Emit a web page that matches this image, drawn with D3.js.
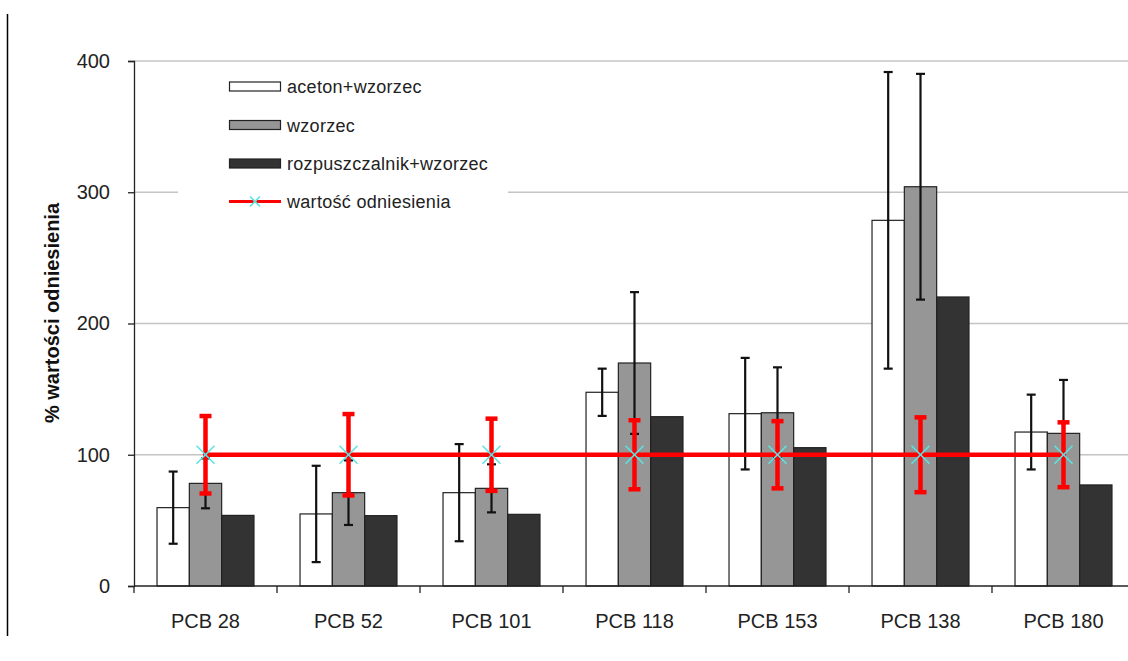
<!DOCTYPE html>
<html>
<head>
<meta charset="utf-8">
<script src="https://cdn.jsdelivr.net/npm/d3@7"></script>
<style>
  html, body { margin: 0; padding: 0; background: #fff; }
  svg { display: block; }
  text { font-family: "Liberation Sans", Arial, sans-serif; }
</style>
</head>
<body>
<svg id="chart" width="1128" height="661"></svg>
<script>
const categories = ["PCB 28", "PCB 52", "PCB 101", "PCB 118", "PCB 153", "PCB 138", "PCB 180"];
const seriesNames = ["aceton+wzorzec", "wzorzec", "rozpuszczalnik+wzorzec"];
const refName = "wartość odniesienia";
const acetonValues = [59.7, 54.9, 71.1, 147.6, 131.3, 278.6, 117.3];
const acetonErrors = [27.5, 36.7, 37.0, 18.0, 42.5, 113.0, 28.5];
const wzorzecValues = [78.2, 71.1, 74.4, 169.9, 132.0, 304.2, 116.3];
const wzorzecErrors = [19.0, 24.6, 18.3, 54.0, 34.6, 86.0, 40.7];
const rozpValues = [53.8, 53.6, 54.6, 129.0, 105.4, 220.2, 77.0];
const refValues = [100, 100, 100, 100, 100, 100, 100];
const refErrors = [29.5, 31.0, 27.5, 26.3, 25.6, 28.5, 24.7];
const yTicks = [0, 100, 200, 300, 400];
const yTitle = "% wartości odniesienia";

const seriesColors = ["#ffffff", "#969696", "#333333"];

const svg = d3.select("#chart");
const pLeft = 134, pRight = 1135, pTop = 61, pBottom = 586;

const x = d3.scaleBand().domain(categories).range([pLeft, pRight]).padding(0);
const y = d3.scaleLinear().domain([0, 400]).range([pBottom, pTop]);
const bw = x.bandwidth();
const groupPad = bw * 0.161;
const barW = (bw - 2 * groupPad) / 3;
const inner = d3.scaleBand().domain(seriesNames).range([groupPad, bw - groupPad]).padding(0);

// left border line
svg.append("line").attr("x1", 7.5).attr("x2", 7.5).attr("y1", 14).attr("y2", 636)
  .attr("stroke", "#000").attr("stroke-width", 1.5);

// gridlines
svg.append("g").selectAll("line").data(yTicks.filter(d => d > 0)).join("line")
  .attr("x1", pLeft).attr("x2", 1128)
  .attr("y1", d => y(d)).attr("y2", d => y(d))
  .attr("stroke", "#c4c4c4").attr("stroke-width", 1.5);

// y axis
const yAxis = svg.append("g").attr("transform", `translate(${pLeft},0)`)
  .call(d3.axisLeft(y).tickValues(yTicks).tickSize(6).tickPadding(18));
yAxis.select(".domain").attr("stroke", "#222").attr("stroke-width", 1.3);
yAxis.selectAll(".tick line").attr("stroke", "#222").attr("stroke-width", 1.3);
yAxis.selectAll("text").attr("font-size", 20).attr("fill", "#222")
  .attr("font-family", "Liberation Sans, Arial, sans-serif");

// y title
svg.append("text")
  .attr("transform", `translate(59,313) rotate(-90)`)
  .attr("text-anchor", "middle")
  .attr("font-size", 20).attr("font-weight", "bold").attr("fill", "#111")
  .text(yTitle);

// bars
const seriesData = [acetonValues, wzorzecValues, rozpValues];
const barG = svg.append("g");
seriesData.forEach((vals, si) => {
  barG.selectAll(null).data(vals.map((v, i) => ({ cat: categories[i], v })))
    .join("rect")
    .attr("x", d => x(d.cat) + inner(seriesNames[si]))
    .attr("width", barW)
    .attr("y", d => y(d.v))
    .attr("height", d => y(0) - y(d.v))
    .attr("fill", seriesColors[si])
    .attr("stroke", "#222").attr("stroke-width", 1.2);
});

// x axis
const xAxisG = svg.append("g");
xAxisG.append("line").attr("x1", pLeft).attr("x2", 1128).attr("y1", pBottom).attr("y2", pBottom)
  .attr("stroke", "#222").attr("stroke-width", 1.3);
const boundaries = categories.map(c => x(c)).concat([x(categories[categories.length - 1]) + bw]);
xAxisG.selectAll(".xt").data(boundaries).join("line")
  .attr("x1", d => d).attr("x2", d => d).attr("y1", pBottom).attr("y2", pBottom + 7)
  .attr("stroke", "#222").attr("stroke-width", 1.3);
xAxisG.selectAll("text").data(categories).join("text")
  .attr("x", d => x(d) + bw / 2).attr("y", 628)
  .attr("text-anchor", "middle").attr("font-size", 20).attr("fill", "#222")
  .text(d => d);

// black error bars
function errBars(vals, errs, si) {
  const g = svg.append("g").attr("stroke", "#111").attr("stroke-width", 2.2);
  vals.forEach((v, i) => {
    const cx = x(categories[i]) + inner(seriesNames[si]) + barW / 2;
    const y1 = y(v + errs[i]), y2 = y(v - errs[i]);
    g.append("line").attr("x1", cx).attr("x2", cx).attr("y1", y1).attr("y2", y2);
    g.append("line").attr("x1", cx - 4.5).attr("x2", cx + 4.5).attr("y1", y1).attr("y2", y1);
    g.append("line").attr("x1", cx - 4.5).attr("x2", cx + 4.5).attr("y1", y2).attr("y2", y2);
  });
}
errBars(acetonValues, acetonErrors, 0);
errBars(wzorzecValues, wzorzecErrors, 1);

// reference line
const refX = categories.map(c => x(c) + bw / 2);
const line = d3.line().x((d, i) => refX[i]).y(d => y(d));
svg.append("path").datum(refValues).attr("d", line)
  .attr("fill", "none").attr("stroke", "#ff0000").attr("stroke-width", 4.5)
  .attr("stroke-linecap", "square");

// red error bars
const rg = svg.append("g").attr("stroke", "#ff0000");
refValues.forEach((v, i) => {
  const cx = refX[i];
  const y1 = y(v + refErrors[i]), y2 = y(v - refErrors[i]);
  rg.append("line").attr("x1", cx).attr("x2", cx).attr("y1", y1).attr("y2", y2).attr("stroke-width", 4.5);
  rg.append("line").attr("x1", cx - 6).attr("x2", cx + 6).attr("y1", y1).attr("y2", y1).attr("stroke-width", 4.5);
  rg.append("line").attr("x1", cx - 6).attr("x2", cx + 6).attr("y1", y2).attr("y2", y2).attr("stroke-width", 4.5);
});

// cyan markers
const mg = svg.append("g").attr("stroke", "#5fe3e3").attr("stroke-width", 1.6);
refValues.forEach((v, i) => {
  const cx = refX[i], cy = y(v), s = 9;
  mg.append("line").attr("x1", cx - s).attr("x2", cx + s).attr("y1", cy - s).attr("y2", cy + s);
  mg.append("line").attr("x1", cx - s).attr("x2", cx + s).attr("y1", cy + s).attr("y2", cy - s);
});

// legend
const lg = svg.append("g");
lg.append("rect").attr("x", 178).attr("y", 66).attr("width", 330).attr("height", 150).attr("fill", "#fff");
const rowY = [86.5, 125, 163.5, 201.5];
seriesNames.forEach((n, i) => {
  lg.append("rect").attr("x", 229.5).attr("y", rowY[i] - 4.5).attr("width", 51).attr("height", 9)
    .attr("fill", seriesColors[i]).attr("stroke", "#222").attr("stroke-width", 1.2);
  lg.append("text").attr("x", 287).attr("y", rowY[i] + 6.5).attr("font-size", 18).attr("fill", "#222")
    .attr("letter-spacing", 0.3).text(n);
});
lg.append("line").attr("x1", 229).attr("x2", 281).attr("y1", rowY[3]).attr("y2", rowY[3])
  .attr("stroke", "#ff0000").attr("stroke-width", 3);
lg.append("line").attr("x1", 250).attr("x2", 260).attr("y1", rowY[3] - 5).attr("y2", rowY[3] + 5)
  .attr("stroke", "#5fe3e3").attr("stroke-width", 1.6);
lg.append("line").attr("x1", 250).attr("x2", 260).attr("y1", rowY[3] + 5).attr("y2", rowY[3] - 5)
  .attr("stroke", "#5fe3e3").attr("stroke-width", 1.6);
lg.append("text").attr("x", 287).attr("y", rowY[3] + 6.5).attr("font-size", 18).attr("fill", "#222")
  .attr("letter-spacing", 0.3).text(refName);
</script>
</body>
</html>
